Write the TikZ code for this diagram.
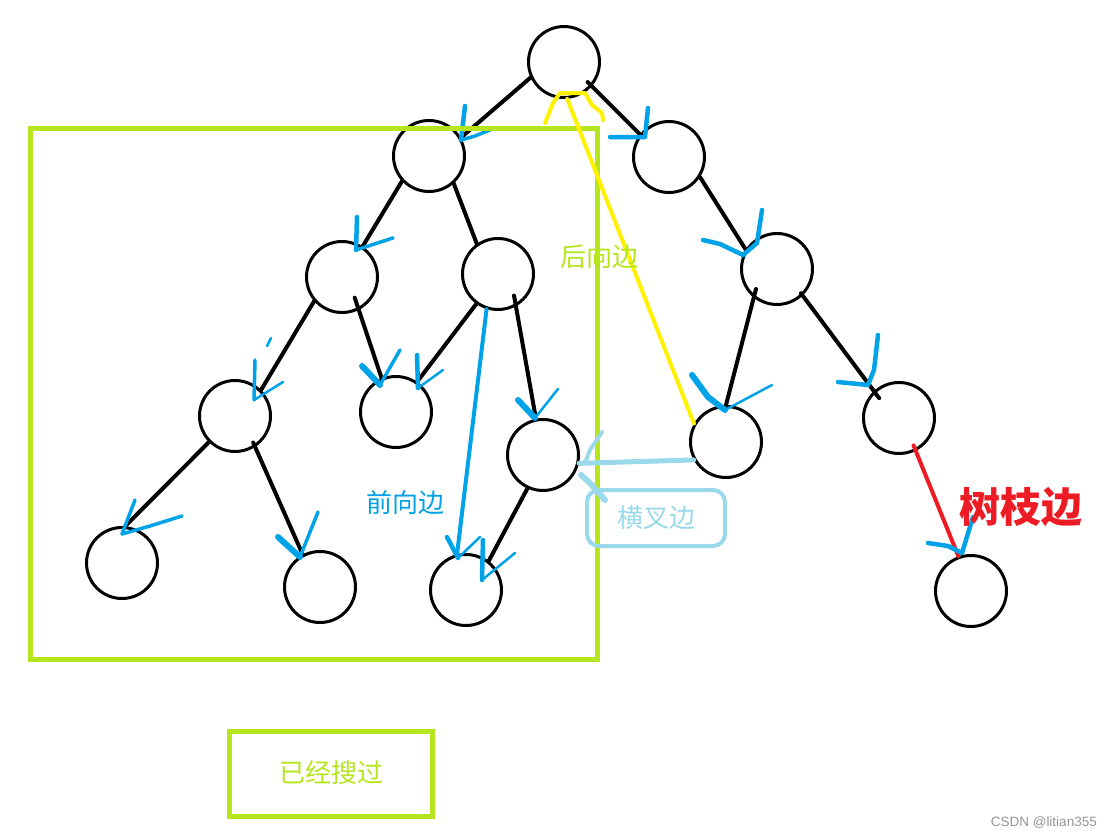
\documentclass[tikz,border=0pt]{standalone}
\usepackage{fontspec}
\setmainfont{Liberation Sans}
\newfontfamily\cjk{Noto Sans CJK SC}
\definecolor{pblue}{RGB}{0,162,232}
\definecolor{plime}{RGB}{181,230,29}
\definecolor{pyellow}{RGB}{255,242,0}
\definecolor{plblue}{RGB}{153,217,234}
\definecolor{pred}{RGB}{237,28,36}
\definecolor{pgray}{RGB}{150,150,150}
\begin{document}
\begin{tikzpicture}[x=1pt,y=-1pt,
  vtx/.style={circle,draw,line width=3pt,minimum size=71pt,inner sep=0pt},
  edge/.style={line width=4pt,line cap=round},
  tk/.style={pblue,line width=4.5pt,line cap=round,line join=round},
  tkt/.style={pblue,line width=2.5pt,line cap=round,line join=round},
  lbl/.style={font=\cjk\fontsize{26}{26}\selectfont,inner sep=0pt}]
\path[use as bounding box,fill=white] (0,0) rectangle (1112,838);
% vertices
\node[vtx] (r) at (564,62) {};
\node[vtx] (a) at (429,156) {};
\node[vtx] (b) at (669,157) {};
\node[vtx] (c) at (342,277) {};
\node[vtx] (d) at (498,274) {};
\node[vtx] (e) at (235,416) {};
\node[vtx] (f) at (396,412) {};
\node[vtx] (g) at (543,455) {};
\node[vtx] (i) at (122,563) {};
\node[vtx] (j) at (320,587) {};
\node[vtx] (h) at (466,590) {};
\node[vtx] (k) at (777,269) {};
\node[vtx] (l) at (726,442) {};
\node[vtx] (m) at (899,418) {};
\node[vtx] (n) at (971,591) {};
% tree edges
\draw[edge] (r.205) -- (a.30);
\draw[edge,shorten <=-6pt] (r.-41) -- (b.142);
\draw[edge] (a.223) -- (c.56);
\draw[edge] (a.-48) -- (d.125);
\draw[edge] (c.221) -- (e.45);
\draw[edge,shorten <=-13pt] (c.-63) -- (f.113);
\draw[edge] (d.234) -- (f.55);
\draw[edge,shorten <=-11pt,shorten >=5pt] (d.-61) -- (g.101);
\draw[edge] (g.245) -- (h.52);
\draw[edge] (e.225) -- (i.85);
\draw[edge,shorten <=-5pt] (e.-57) -- (j.118);
\draw[edge] (b.-33) -- (k.148);
\draw[edge,shorten <=-9pt] (k.231) -- (l.90);
\draw[edge,shorten <=-3pt,shorten >=-9pt] (k.-46) -- (m.133);
\draw[edge,pred,shorten <=-6pt] (m.-63) -- (n.110);
% forward edge
\draw[pblue,line width=4pt,line cap=round] (d.252) -- (h.104);
\draw[tk] (447,537) -- (458,558);
\draw[tkt] (458,558) -- (480,537);
% check ticks
\draw[tk] (465,106) -- (461,140);
\draw[tkt,line width=3.5pt] (461,140) -- (475,136) -- (490,130);
\draw[tk] (648,108) -- (645,137) -- (610,137);
\draw[tk] (357,217) -- (356,250);
\draw[tkt,line width=3.5pt] (356,250) -- (393,238);
\draw[tk,line width=3.5pt] (255,360) -- (254,400);
\draw[tkt] (254,400) -- (283,382);
\draw[tkt] (267,346) -- (271,338);
\draw[tk,line width=6pt] (362,366) -- (380,385);
\draw[tkt,line width=3.5pt] (380,385) -- (400,350);
\draw[tk] (417,355) -- (418,388);
\draw[tkt] (418,388) -- (443,370);
\draw[tk,line width=6pt] (518,400) -- (535,418);
\draw[tkt] (535,418) -- (558,389);
\draw[tk,line width=3.5pt] (135,500) -- (122,534);
\draw[tk,line width=3.5pt] (122,534) -- (150,526) -- (182,516);
\draw[tk,line width=6pt] (278,537) -- (300,557);
\draw[tkt,line width=3.5pt] (300,557) -- (318,512);
\draw[tk] (483,540) -- (482,580);
\draw[tkt] (482,580) -- (515,553);
\draw[tk] (703,240) -- (720,244) -- (743,255);
\draw[tk] (762,210) -- (757,243) -- (743,255);
\draw[tk,line width=6pt] (692,375) -- (708,397) -- (725,410);
\draw[tkt] (725,410) -- (772,385);
\draw[tk] (878,335) -- (874,370) -- (868,385);
\draw[tk] (838,382) -- (868,385);
\draw[tk] (973,517) -- (962,553);
\draw[tk] (928,543) -- (948,546) -- (962,553);
% searched region
\draw[plime,line width=5pt] (30,128) rectangle (597,659);
% back edge
\draw[pyellow,line width=4pt,line cap=round] (l.150) -- (r.-85);
\draw[pyellow,line width=4pt,line cap=round,line join=round] (545,123) -- (553,103) -- (560,93) -- (585,93) -- (592,105) -- (602,113) -- (603,120);
% cross edge
\draw[plblue,line width=5pt,line cap=round] (l.209) -- (g.-13);
\draw[plblue,line width=4pt,line cap=round,line join=round] (602,432) -- (590,450) -- (585,463);
\draw[plblue,line width=6pt,line cap=round,line join=round] (581,475) -- (590,483) -- (605,500);
% labels
\node[draw=plblue,line width=4pt,rounded corners=12pt,minimum width=138pt,minimum height=56pt,text=plblue,lbl] (cross) at (656,518) {横叉边};
\node[lbl,text=plime] (back) at (599,257) {后向边};
\node[lbl,text=pblue] (fwd) at (405,503) {前向边};
\node[font=\cjk\bfseries\fontsize{41}{41}\selectfont,text=pred,inner sep=0pt] (tree) at (1021,507) {树枝边};
\node[draw=plime,line width=5pt,minimum width=203pt,minimum height=85pt,text=plime,lbl] (legend) at (331,774) {\raisebox{4pt}{已经搜过}};
\node[font=\fontsize{13.5}{14}\selectfont,text=pgray,anchor=east,inner sep=0pt] (credit) at (1097,823) {CSDN @litian355};
\end{tikzpicture}
\end{document}
